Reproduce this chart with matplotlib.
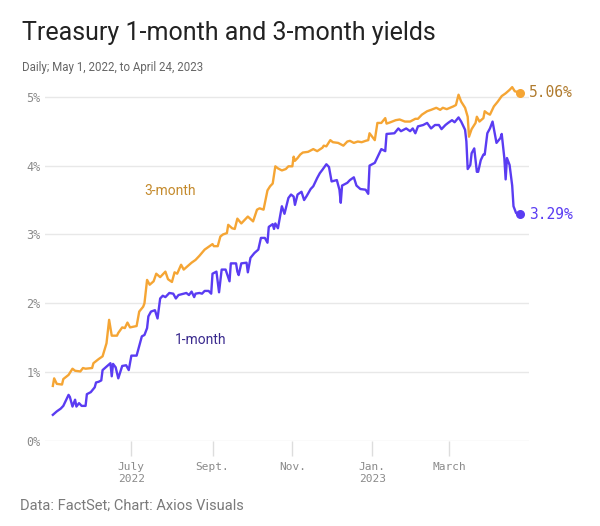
import matplotlib
matplotlib.use('Agg')
import matplotlib.pyplot as plt
import pandas as pd

# 3-month yield, daily closes
dates_3m = ['2022-05-02', '2022-05-03', '2022-05-05', '2022-05-09', '2022-05-10', '2022-05-14',
            '2022-05-17', '2022-05-19', '2022-05-23', '2022-05-25', '2022-05-27', '2022-06-01',
            '2022-06-02', '2022-06-06', '2022-06-09', '2022-06-12', '2022-06-14', '2022-06-16',
            '2022-06-20', '2022-06-21', '2022-06-24', '2022-06-26', '2022-06-28', '2022-06-30',
            '2022-07-05', '2022-07-07', '2022-07-10', '2022-07-11', '2022-07-13', '2022-07-15',
            '2022-07-18', '2022-07-20', '2022-07-23', '2022-07-27', '2022-07-29', '2022-08-01',
            '2022-08-03', '2022-08-05', '2022-08-08', '2022-08-10', '2022-08-13', '2022-08-16',
            '2022-08-19', '2022-08-22', '2022-08-26', '2022-08-29', '2022-09-01', '2022-09-02',
            '2022-09-05', '2022-09-07', '2022-09-09', '2022-09-12', '2022-09-13', '2022-09-16',
            '2022-09-18', '2022-09-20', '2022-09-23', '2022-09-25', '2022-09-28', '2022-10-02',
            '2022-10-05', '2022-10-07', '2022-10-10', '2022-10-13', '2022-10-15', '2022-10-17',
            '2022-10-19', '2022-10-21', '2022-10-24', '2022-10-27', '2022-10-29', '2022-11-01',
            '2022-11-02', '2022-11-03', '2022-11-05', '2022-11-07', '2022-11-09', '2022-11-13',
            '2022-11-17', '2022-11-20', '2022-11-24', '2022-11-25', '2022-11-27', '2022-11-30',
            '2022-12-02', '2022-12-06', '2022-12-10', '2022-12-13', '2022-12-15', '2022-12-18',
            '2022-12-21', '2022-12-24', '2022-12-27', '2022-12-29', '2022-12-30', '2023-01-03',
            '2023-01-05', '2023-01-08', '2023-01-11', '2023-01-12', '2023-01-15', '2023-01-19',
            '2023-01-22', '2023-01-26', '2023-01-30', '2023-02-03', '2023-02-05', '2023-02-08',
            '2023-02-12', '2023-02-15', '2023-02-19', '2023-02-22', '2023-02-24', '2023-02-27',
            '2023-03-04', '2023-03-06', '2023-03-08', '2023-03-10', '2023-03-13', '2023-03-15',
            '2023-03-16', '2023-03-18', '2023-03-21', '2023-03-22', '2023-03-24', '2023-03-27',
            '2023-03-28', '2023-03-30', '2023-04-01', '2023-04-03', '2023-04-04', '2023-04-07',
            '2023-04-10', '2023-04-13', '2023-04-16', '2023-04-18', '2023-04-20', '2023-04-24']
yield_3m = [0.80, 0.91, 0.83, 0.82, 0.90, 0.96,
            1.05, 1.02, 1.01, 1.06, 1.05, 1.06,
            1.13, 1.19, 1.23, 1.42, 1.76, 1.53,
            1.53, 1.57, 1.65, 1.64, 1.72, 1.65,
            1.67, 1.88, 1.95, 2.00, 2.34, 2.27,
            2.32, 2.43, 2.38, 2.46, 2.35, 2.31,
            2.45, 2.43, 2.56, 2.49, 2.54, 2.59,
            2.63, 2.69, 2.78, 2.82, 2.86, 2.83,
            2.83, 2.97, 3.00, 3.02, 3.14, 3.09,
            3.08, 3.23, 3.16, 3.20, 3.26, 3.19,
            3.36, 3.38, 3.36, 3.64, 3.70, 3.74,
            3.99, 3.96, 3.93, 3.95, 3.99, 3.99,
            4.13, 4.07, 4.11, 4.16, 4.19, 4.20,
            4.24, 4.21, 4.26, 4.29, 4.28, 4.37,
            4.34, 4.33, 4.29, 4.35, 4.36, 4.33,
            4.35, 4.34, 4.36, 4.37, 4.47, 4.37,
            4.62, 4.62, 4.69, 4.61, 4.63, 4.66,
            4.67, 4.64, 4.64, 4.68, 4.68, 4.74,
            4.79, 4.81, 4.84, 4.81, 4.84, 4.82,
            4.86, 4.88, 5.03, 4.93, 4.84, 4.71,
            4.42, 4.53, 4.62, 4.71, 4.64, 4.69,
            4.79, 4.76, 4.74, 4.82, 4.86, 4.93,
            5.01, 5.05, 5.10, 5.14, 5.08, 5.06]

# 1-month yield
dates_1m = ['2022-05-02', '2022-05-05', '2022-05-08', '2022-05-10', '2022-05-14', '2022-05-15',
            '2022-05-17', '2022-05-19', '2022-05-20', '2022-05-22', '2022-05-24', '2022-05-27',
            '2022-05-28', '2022-05-31', '2022-06-03', '2022-06-04', '2022-06-06', '2022-06-08',
            '2022-06-09', '2022-06-12', '2022-06-15', '2022-06-16', '2022-06-17', '2022-06-19',
            '2022-06-21', '2022-06-24', '2022-06-27', '2022-06-29', '2022-07-01', '2022-07-05',
            '2022-07-07', '2022-07-09', '2022-07-11', '2022-07-13', '2022-07-14', '2022-07-16',
            '2022-07-19', '2022-07-21', '2022-07-23', '2022-07-25', '2022-07-27', '2022-07-30',
            '2022-08-02', '2022-08-04', '2022-08-06', '2022-08-08', '2022-08-12', '2022-08-14',
            '2022-08-16', '2022-08-18', '2022-08-19', '2022-08-22', '2022-08-24', '2022-08-26',
            '2022-08-29', '2022-08-31', '2022-09-01', '2022-09-04', '2022-09-06', '2022-09-08',
            '2022-09-11', '2022-09-14', '2022-09-15', '2022-09-19', '2022-09-20', '2022-09-21',
            '2022-09-23', '2022-09-27', '2022-09-28', '2022-09-30', '2022-10-03', '2022-10-06',
            '2022-10-08', '2022-10-11', '2022-10-13', '2022-10-14', '2022-10-17', '2022-10-18',
            '2022-10-19', '2022-10-21', '2022-10-24', '2022-10-26', '2022-10-29', '2022-10-31',
            '2022-11-02', '2022-11-03', '2022-11-05', '2022-11-08', '2022-11-10', '2022-11-12',
            '2022-11-15', '2022-11-17', '2022-11-18', '2022-11-20', '2022-11-22', '2022-11-24',
            '2022-11-27', '2022-11-29', '2022-12-01', '2022-12-03', '2022-12-05', '2022-12-07',
            '2022-12-08', '2022-12-09', '2022-12-13', '2022-12-15', '2022-12-18', '2022-12-20',
            '2022-12-23', '2022-12-27', '2022-12-29', '2022-12-30', '2023-01-03', '2023-01-05',
            '2023-01-08', '2023-01-11', '2023-01-12', '2023-01-18', '2023-01-21', '2023-01-23',
            '2023-01-27', '2023-01-30', '2023-02-01', '2023-02-03', '2023-02-05', '2023-02-09',
            '2023-02-12', '2023-02-15', '2023-02-18', '2023-02-21', '2023-02-23', '2023-02-26',
            '2023-02-28', '2023-03-03', '2023-03-05', '2023-03-08', '2023-03-10', '2023-03-13',
            '2023-03-14', '2023-03-15', '2023-03-17', '2023-03-18', '2023-03-20', '2023-03-22',
            '2023-03-23', '2023-03-25', '2023-03-27', '2023-03-28', '2023-03-30', '2023-04-01',
            '2023-04-03', '2023-04-06', '2023-04-09', '2023-04-10', '2023-04-12', '2023-04-13',
            '2023-04-14', '2023-04-16', '2023-04-18', '2023-04-19', '2023-04-21', '2023-04-24']
yield_1m = [0.38, 0.43, 0.47, 0.51, 0.67, 0.64,
            0.50, 0.60, 0.50, 0.55, 0.51, 0.51,
            0.68, 0.71, 0.78, 0.85, 0.86, 0.88,
            1.03, 1.08, 1.13, 0.94, 1.12, 1.07,
            0.91, 1.09, 1.10, 1.03, 1.24, 1.24,
            1.38, 1.52, 1.54, 1.64, 1.81, 1.88,
            1.90, 1.78, 2.07, 2.11, 2.09, 2.15,
            2.14, 2.07, 2.12, 2.13, 2.15, 2.12,
            2.17, 2.09, 2.14, 2.15, 2.14, 2.18,
            2.18, 2.14, 2.43, 2.46, 2.16, 2.49,
            2.49, 2.32, 2.58, 2.58, 2.46, 2.41,
            2.58, 2.59, 2.45, 2.66, 2.73, 2.78,
            2.95, 2.95, 2.88, 3.11, 3.15, 3.08,
            3.16, 3.09, 3.41, 3.30, 3.53, 3.58,
            3.55, 3.43, 3.58, 3.62, 3.50, 3.56,
            3.66, 3.70, 3.74, 3.82, 3.89, 3.94,
            4.02, 3.98, 3.77, 3.78, 3.79, 3.65,
            3.46, 3.71, 3.75, 3.79, 3.83, 3.71,
            3.66, 3.65, 3.59, 4.00, 4.04, 4.12,
            4.24, 4.21, 4.46, 4.47, 4.54, 4.50,
            4.54, 4.50, 4.54, 4.47, 4.57, 4.59,
            4.62, 4.54, 4.59, 4.59, 4.53, 4.59,
            4.62, 4.66, 4.63, 4.70, 4.64, 4.52,
            4.35, 3.95, 4.01, 4.18, 4.25, 3.91,
            3.91, 4.08, 4.16, 4.16, 4.47, 4.54,
            4.64, 4.33, 4.40, 4.46, 4.11, 3.80,
            4.11, 4.01, 3.71, 3.41, 3.31, 3.29]

y_ticks = [0, 1, 2, 3, 4, 5]
x_tick_dates = ['2022-07-01', '2022-09-01', '2022-11-01', '2023-01-01', '2023-03-01']
x_tick_labels = ['July\n2022', 'Sept.', 'Nov.', 'Jan.\n2023', 'March']

orange = '#f5a534'
orange_text = '#c48a2c'
orange_end = '#b07b2e'
blue = '#5a3cf2'
blue_text = '#3a2a8e'
grey = '#8a8a8a'

d3 = pd.to_datetime(dates_3m)
d1 = pd.to_datetime(dates_1m)

fig = plt.figure(figsize=(6.0, 5.26), dpi=100)
ax = fig.add_axes([0.075, 0.1616, 0.807, 0.6806])

# Lines
ax.plot(d3, yield_3m, color=orange, lw=1.7, solid_joinstyle='round', zorder=3)
ax.plot(d1, yield_1m, color=blue, lw=1.7, solid_joinstyle='round', zorder=3)

# End dots and labels
ax.scatter([d3[-1]], [yield_3m[-1]], s=30, color=orange, zorder=4, clip_on=False)
ax.scatter([d1[-1]], [yield_1m[-1]], s=30, color=blue, zorder=4, clip_on=False)
ax.annotate(f'{yield_3m[-1]:.2f}%', (d3[-1], yield_3m[-1]), xytext=(6.5, 0), textcoords='offset points',
            va='center', ha='left', fontsize=10.5, family='DejaVu Sans Mono', color=orange_end,
            annotation_clip=False)
ax.annotate(f'{yield_1m[-1]:.2f}%', (d1[-1], yield_1m[-1]), xytext=(6.5, 0), textcoords='offset points',
            va='center', ha='left', fontsize=10.5, family='DejaVu Sans Mono', color=blue,
            annotation_clip=False)

# Series labels
ax.text(pd.Timestamp('2022-07-11'), 3.63, '3-month', color=orange_text, fontsize=10,
        family='Roboto', ha='left', va='center')
ax.text(pd.Timestamp('2022-08-03'), 1.47, '1-month', color=blue_text, fontsize=10,
        family='Roboto', ha='left', va='center')

# Axes styling
ax.set_xlim(pd.Timestamp('2022-04-26'), pd.Timestamp('2023-05-01'))
ax.set_ylim(0, 5.2)
ax.set_yticks(y_ticks)
ax.set_yticklabels([f'{t}%' for t in y_ticks])
ax.set_xticks(pd.to_datetime(x_tick_dates))
ax.set_xticklabels(x_tick_labels)
ax.grid(axis='y', color='#e8e8e8', lw=1)
ax.set_axisbelow(True)
for s in ax.spines.values():
    s.set_visible(False)
ax.tick_params(axis='y', length=0, pad=3, labelsize=8.5, labelcolor=grey)
ax.tick_params(axis='x', length=11, width=1, color='#dddddd', pad=4, labelsize=8, labelcolor=grey)
for lab in ax.get_xticklabels() + ax.get_yticklabels():
    lab.set_family('DejaVu Sans Mono')
for lab in ax.get_xticklabels():
    lab.set_linespacing(1.3)
    lab.set_verticalalignment('top')

# Titles and source
fig.text(0.037, 0.937, 'Treasury 1-month and 3-month yields', fontsize=18, family='Roboto',
         color='#222222', va='center', ha='left')
fig.text(0.037, 0.871, 'Daily; May 1, 2022, to April 24, 2023', fontsize=8.3, family='Roboto',
         color='#666666', va='center', ha='left')
fig.text(0.033, 0.038, 'Data: FactSet; Chart: Axios Visuals', fontsize=10.5, family='Roboto',
         color='#7a7a7a', va='center', ha='left')

fig.savefig('out.png', dpi=100)
